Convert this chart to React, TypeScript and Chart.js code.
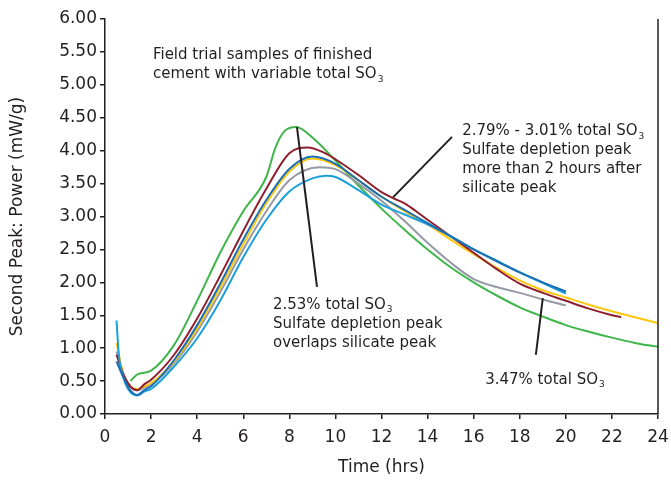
import React, { useEffect, useRef } from "react";
import { Chart, registerables } from "chart.js";

Chart.register(...registerables);

const FONT = "'DejaVu Sans', sans-serif";
const INK = "#231f20";

// x-axis (hours) and y-axis (mW/g) ranges
const xRange = [0, 24];
const yRange = [0, 6];

const darkBlueHours = [0.5, 0.8, 1.1, 1.4, 1.7, 2, 3, 4, 5, 6, 7, 8, 9, 10, 11, 12, 13, 14, 15, 16, 17, 18, 19, 20];
const darkBlueValues = [0.8, 0.55, 0.36, 0.29, 0.36, 0.42, 0.82, 1.35, 1.98, 2.65, 3.25, 3.72, 3.91, 3.8, 3.55, 3.3, 3.1, 2.9, 2.7, 2.5, 2.32, 2.15, 2.0, 1.86];

const lightBlueHours = [0.5, 0.6, 0.8, 1.0, 1.4, 1.7, 2, 3, 4, 5, 6, 7, 8, 9, 9.6, 10, 11, 12, 13, 14, 15, 16, 17, 18, 19, 20];
const lightBlueValues = [1.42, 0.9, 0.55, 0.38, 0.28, 0.34, 0.38, 0.72, 1.15, 1.72, 2.38, 2.95, 3.38, 3.58, 3.62, 3.6, 3.4, 3.18, 3.03, 2.88, 2.7, 2.5, 2.33, 2.15, 1.99, 1.83];

const maroonHours = [0.5, 0.8, 1.1, 1.4, 1.7, 2, 3, 4, 5, 6, 7, 8, 8.8, 9.5, 10, 11, 12, 12.5, 13, 13.5, 14, 15, 16, 17, 18, 19, 20, 21, 22, 22.4];
const maroonValues = [0.9, 0.6, 0.42, 0.36, 0.45, 0.52, 0.9, 1.45, 2.1, 2.78, 3.42, 3.96, 4.05, 3.97, 3.87, 3.63, 3.37, 3.28, 3.2, 3.08, 2.95, 2.7, 2.45, 2.2, 1.98, 1.84, 1.72, 1.6, 1.5, 1.47];

const yellowHours = [0.5, 0.8, 1.1, 1.4, 1.7, 2, 3, 4, 5, 6, 7, 8, 9, 10, 11, 12, 13, 14, 15, 16, 17, 18, 19, 20, 21, 22, 23, 24];
const yellowValues = [1.08, 0.6, 0.42, 0.38, 0.42, 0.47, 0.8, 1.3, 1.92, 2.58, 3.2, 3.68, 3.88, 3.78, 3.55, 3.3, 3.08, 2.88, 2.65, 2.43, 2.22, 2.03, 1.88, 1.77, 1.66, 1.56, 1.47, 1.38];

const grayHours = [0.5, 0.8, 1.1, 1.4, 1.7, 2, 3, 4, 5, 6, 7, 8, 9.3, 10, 11, 12, 13, 14, 15, 16, 17, 18, 19, 20];
const grayValues = [0.95, 0.6, 0.42, 0.36, 0.4, 0.45, 0.77, 1.25, 1.85, 2.5, 3.08, 3.55, 3.75, 3.72, 3.5, 3.24, 2.93, 2.6, 2.3, 2.05, 1.93, 1.84, 1.74, 1.65];

const greenHours = [1.1, 1.4, 2, 3, 4, 5, 6, 7, 7.4, 7.8, 8.3, 9, 10, 11, 12, 13, 14, 15, 16, 17, 18, 19, 20, 21, 22, 23, 24];
const greenValues = [0.5, 0.6, 0.66, 1.05, 1.72, 2.45, 3.08, 3.6, 4.05, 4.3, 4.36, 4.2, 3.85, 3.47, 3.12, 2.8, 2.5, 2.23, 2.0, 1.8, 1.62, 1.48, 1.35, 1.25, 1.16, 1.08, 1.02];

// leader lines of the annotations: [hours, value] endpoints
const leaderOverlap = [[8.33, 4.36], [9.2, 1.93]];
const leaderDepletion = [[12.5, 3.29], [15.06, 4.21]];
const leaderHigh = [[19.0, 1.76], [18.7, 0.9]];

// annotation texts: each line is [text, subscript]
const noteField = { x: 2.08, y: 5.45, lines: [["Field trial samples of finished", ""], ["cement with variable total SO", "3"]] };
const noteOverlap = { x: 7.29, y: 1.66, lines: [["2.53% total SO", "3"], ["Sulfate depletion peak", ""], ["overlaps silicate peak", ""]] };
const noteDepletion = { x: 15.5, y: 4.29, lines: [["2.79% - 3.01% total SO", "3"], ["Sulfate depletion peak", ""], ["more than 2 hours after", ""], ["silicate peak", ""]] };
const noteHigh = { x: 16.5, y: 0.52, lines: [["3.47% total SO", "3"]] };
const notes = [noteField, noteOverlap, noteDepletion, noteHigh];

const toPoints = (xs: number[], ys: number[]) => xs.map((x, i) => ({ x, y: ys[i] }));
const pairPoints = (p: number[][]) => p.map(([x, y]) => ({ x, y }));

const curve = (xs: number[], ys: number[], color: string) => ({
  data: toPoints(xs, ys),
  borderColor: color,
  backgroundColor: color,
  borderWidth: 2,
  pointRadius: 0,
  cubicInterpolationMode: "monotone" as const,
  fill: false,
});

const leader = (p: number[][]) => ({
  data: pairPoints(p),
  borderColor: INK,
  borderWidth: 2,
  pointRadius: 0,
  tension: 0,
  fill: false,
});

const extrasPlugin = {
  id: "extras",
  afterDraw(chart: any) {
    const { ctx, chartArea, scales } = chart;
    ctx.save();
    // right border
    ctx.strokeStyle = INK;
    ctx.lineWidth = 1.5;
    ctx.beginPath();
    ctx.moveTo(chartArea.right, chartArea.top);
    ctx.lineTo(chartArea.right, chartArea.bottom);
    ctx.stroke();
    // notes
    ctx.fillStyle = INK;
    ctx.textBaseline = "middle";
    ctx.textAlign = "left";
    const lineH = 19;
    for (const n of notes) {
      const px = scales.x.getPixelForValue(n.x);
      const py = scales.y.getPixelForValue(n.y);
      n.lines.forEach(([t, sub], i) => {
        const y = py + i * lineH;
        ctx.font = `15px ${FONT}`;
        ctx.fillText(t, px, y);
        if (sub) {
          const w = ctx.measureText(t).width;
          ctx.font = `9px ${FONT}`;
          ctx.fillText(sub, px + w + 1, y + 5);
        }
      });
    }
    ctx.restore();
  },
};

export default function App() {
  const ref = useRef<HTMLCanvasElement | null>(null);
  useEffect(() => {
    if (!ref.current) return;
    const chart = new Chart(ref.current, {
      type: "line",
      data: {
        datasets: [
          leader(leaderOverlap),
          leader(leaderDepletion),
          leader(leaderHigh),
          curve(darkBlueHours, darkBlueValues, "#1b6fb5"),
          curve(lightBlueHours, lightBlueValues, "#1aa0dc"),
          curve(maroonHours, maroonValues, "#8e1f2e"),
          curve(yellowHours, yellowValues, "#fcc70f"),
          curve(grayHours, grayValues, "#9499a4"),
          curve(greenHours, greenValues, "#3fb54a"),
        ] as any,
      },
      options: {
        animation: false,
        responsive: false,
        maintainAspectRatio: false,
        layout: { padding: { top: 19, right: 13, left: 0, bottom: 0 } },
        plugins: { legend: { display: false }, tooltip: { enabled: false } },
        scales: {
          x: {
            type: "linear",
            min: xRange[0],
            max: xRange[1],
            afterFit: (s: any) => { s.height = 66; s.paddingRight = 0; },
            ticks: { stepSize: 2, color: INK, font: { family: FONT, size: 17 }, padding: 8, maxRotation: 0 },
            grid: { display: true, drawOnChartArea: false, drawTicks: true, tickLength: 5, color: INK, lineWidth: 1.5 },
            border: { display: true, color: INK, width: 1.5 },
            title: { display: true, text: "Time (hrs)", color: INK, font: { family: FONT, size: 17 }, padding: { top: 0, bottom: 2 } },
          },
          y: {
            type: "linear",
            min: yRange[0],
            max: yRange[1],
            afterFit: (s: any) => { s.width = 105; },
            ticks: { stepSize: 0.5, color: INK, font: { family: FONT, size: 17 }, padding: 3, callback: (v: any) => Number(v).toFixed(2) },
            grid: { display: true, drawOnChartArea: false, drawTicks: true, tickLength: 5, color: INK, lineWidth: 1.5 },
            border: { display: true, color: INK, width: 1.5 },
            title: { display: true, text: "Second Peak: Power (mW/g)", color: INK, font: { family: FONT, size: 17 }, padding: { top: 7, bottom: 0 } },
          },
        },
      },
      plugins: [extrasPlugin],
    });
    return () => chart.destroy();
  }, []);
  return (
    <div style={{ position: "fixed", left: 0, top: 0, width: 671, height: 480, background: "#fff" }}>
      <canvas ref={ref} width={671} height={480} style={{ display: "block", width: 671, height: 480 }} />
    </div>
  );
}
